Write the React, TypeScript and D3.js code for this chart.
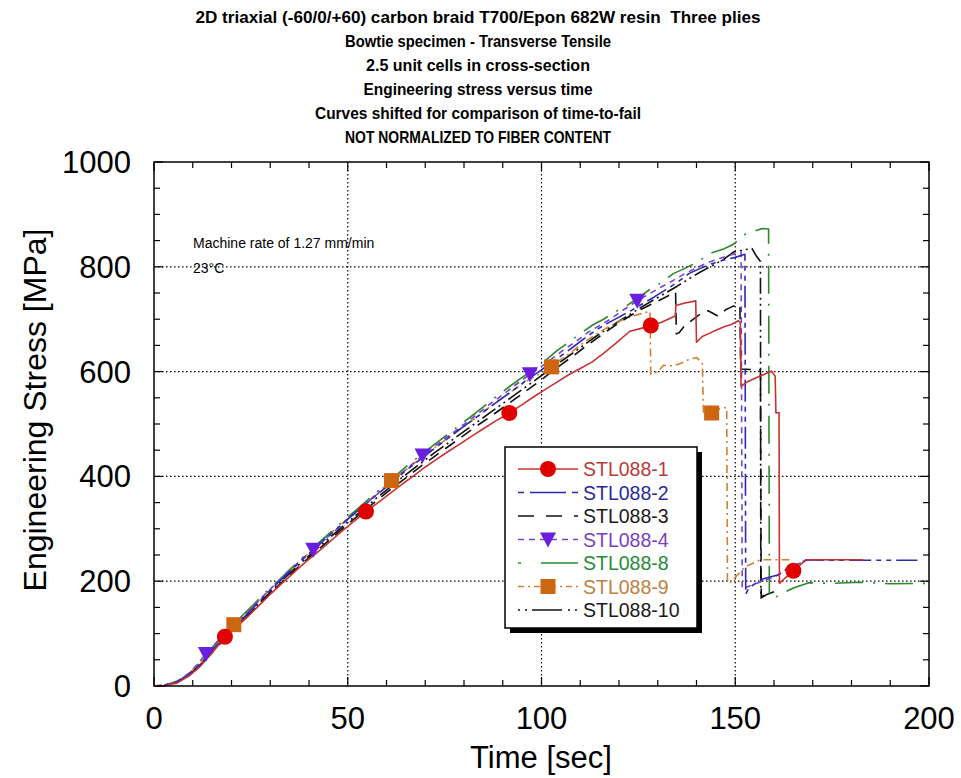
import React from 'react';
import * as d3 from 'd3';

type P = [number, number];

const titleLines = [
  '2D triaxial (-60/0/+60) carbon braid T700/Epon 682W resin  Three plies',
  'Bowtie specimen - Transverse Tensile',
  '2.5 unit cells in cross-section',
  'Engineering stress versus time',
  'Curves shifted for comparison of time-to-fail',
  'NOT NORMALIZED TO FIBER CONTENT',
];
const titleWidths = [565, 266, 224, 229, 326, 266];

const seriesNames = ['STL088-1', 'STL088-2', 'STL088-3', 'STL088-4', 'STL088-8', 'STL088-9', 'STL088-10'];
const xTicksMajor = [0, 50, 100, 150, 200];
const yTicksMajor = [0, 200, 400, 600, 800, 1000];
const xGrid = [50, 100, 150];
const yGrid = [200, 400, 600, 800];

const stl1: P[] = [[0,0],[3,1],[6,6],[9,19],[12,38],[15,63],[18.3,94],[21,111],[24,131],[27,153],[30,175],[33,196],[36,216],[39,236],[42,254],[45,273],[48,292],[51,311],[54.7,333],[58,351],[61,368],[64,385],[67,401],[70,418],[73,433],[76,448],[79,462],[82,477],[85,491],[88,505],[91.7,521],[95,537],[98,552],[101,566],[104,580],[107,594],[110,606],[113,618],[116,635],[119,653],[122.8,677],[125.5,682],[128.2,688],[131,694],[134.5,706],[134.7,726],[137,731],[139.8,735],[140,656],[141.5,667],[143,672],[145,679],[147,685],[149,690],[150.8,697],[151.3,694],[151.5,572],[153,580],[156,590],[159.4,601],[160.3,591],[160.5,521],[161.3,522],[161.4,196],[163,207],[165,220],[168.4,241],[175,241],[183,241]];
const stl2: P[] = [[0,0],[3,2],[6,8],[9,22],[12,42],[15,68],[18,92],[21,115],[24,137],[27,160],[30,183],[33,204],[36,225],[39,246],[42,266],[45,286],[48,305],[51,325],[54,343],[57,362],[60,380],[63,399],[66,417],[69,434],[72,451],[75,468],[78,485],[81,501],[84,517],[87,534],[90,550],[93,566],[96,583],[99,598],[102,614],[105,630],[108,646],[111,663],[114,679],[117,692],[120,704],[123,716],[126,729],[129,742],[132,756],[135,770],[138,787],[141,797],[144,806],[147,813],[150,818],[152.5,824],[152.7,175],[153.5,187],[156.6,203],[158,206],[161,212],[163,222],[166,232],[168.4,241],[175,240],[185,240],[197,240]];
const stl3: P[] = [[0,0],[3,1],[6,7],[9,20],[12,40],[15,64],[18,88],[21,111],[24,133],[27,155],[30,177],[33,198],[36,219],[39,239],[42,258],[45,277],[48,296],[51,315],[54,333],[57,351],[60,369],[63,386],[66,403],[69,420],[72,436],[75,452],[78,468],[81,484],[84,500],[87,515],[90,531],[93,547],[96,563],[99,579],[102,596],[105,613],[108,629],[111,646],[114,662],[117,678],[120,693],[123,707],[126,720],[129,731],[132,742],[134.6,752],[134.8,672],[135.5,674],[137,688],[139.2,700],[141,710],[143,716],[145.5,706],[147.5,718],[149.5,725],[151.2,728],[151.4,605],[154,604],[156.5,603],[156.7,170],[158,176]];
const stl4: P[] = [[0,0],[3,2],[6,9],[9,24],[11,40],[13.4,61],[16,82],[19,104],[22,126],[25,147],[28,170],[31,192],[34,214],[37,234],[41.1,260],[44,279],[47,298],[50,318],[53,336],[56,356],[59,375],[62,394],[65,413],[69.3,440],[72,455],[75,472],[78,488],[81,505],[84,522],[87,540],[90,556],[93,573],[97,595],[100,610],[103,626],[106,643],[109,658],[112,675],[115,688],[118,701],[121,717],[124.7,735],[128,749],[131,762],[134,774],[137,787],[140,798],[143,808],[146,816],[149,823],[151.5,828],[151.8,185],[154,192],[157,200],[160,208],[163,220],[166,232],[168.5,241],[175,241],[183,241]];
const stl8: P[] = [[0,0],[2,1],[4,4],[6,9],[8,17],[10,29],[12,46],[14,64],[16,82],[18,98],[20,114],[23,136],[26,158],[29,180],[32,200],[35,222],[38,243],[41,263],[44,283],[47,303],[50,322],[53,341],[56,361],[59,380],[62,399],[65,418],[68,436],[71,453],[74,470],[77,487],[80,504],[83,521],[86,539],[89,556],[92,573],[95,589],[98,604],[101,621],[104,640],[107,656],[110,672],[113,688],[116,700],[119,714],[122,726],[125,741],[128,757],[131,770],[134,787],[137,797],[140,808],[142,818],[144,827],[147,834],[149.5,843],[151,852],[152.5,862],[155,868],[157,873],[158.6,872],[158.8,171],[160,168],[163,180],[165,187],[169,197],[175,196],[182,198],[190,195],[200,196]];
const stl9: P[] = [[0,0],[3,2],[6,9],[9,24],[12,44],[15,69],[18,96],[20.6,117],[24,140],[27,162],[30,185],[33,206],[36,227],[39,248],[42,268],[45,288],[48,307],[51,326],[54,345],[57,364],[61.3,392],[64,407],[67,424],[70,441],[73,458],[76,474],[79,490],[82,506],[85,523],[88,540],[91,556],[94,571],[97,586],[100,597],[102.6,609],[105,623],[108,639],[111,656],[114,671],[117,684],[120,696],[123,705],[126,711],[128,715],[128.2,595],[130,600],[131.5,612],[134,611],[136,616],[138,623],[140,627],[141.5,617],[141.8,521],[143.9,521],[146.5,531],[147.8,531],[148,197],[149,199],[152.6,228],[156.6,241],[164,241]];
const stl10: P[] = [[0,0],[3,2],[6,8],[9,21],[12,41],[15,66],[18,90],[21,113],[24,135],[27,157],[30,179],[33,201],[36,222],[39,242],[42,262],[45,281],[48,300],[51,319],[54,337],[57,356],[60,374],[63,392],[66,409],[69,426],[72,443],[75,459],[78,475],[81,491],[84,507],[87,523],[90,539],[93,555],[96,571],[99,587],[102,603],[105,619],[108,635],[111,651],[114,667],[117,682],[120,696],[123,710],[126,724],[129,737],[132,750],[135,763],[138,777],[141,790],[144,802],[147,814],[149.5,828],[152,832],[154.3,835],[155.5,820],[156.5,810],[156.6,168],[158,174],[160,180]];

const stl1Markers: P[] = [[18.3,94],[54.7,333],[91.7,521],[128.2,688],[165,220]];
const stl4Markers: P[] = [[13.4,61],[41.1,260],[69.3,440],[97,595],[124.7,735]];
const stl9Markers: P[] = [[20.6,117],[61.3,392],[102.6,609],[143.9,521]];

const FONT = "'Liberation Sans', Arial, sans-serif";

type Style = { data: P[]; color: string; dash?: string; marker?: string; markerColor?: string; markers?: P[]; text: string; legendDash?: string };

const series: Style[] = [
  { data: stl1, color: '#c83232', marker: 'circle', markerColor: '#e00000', markers: stl1Markers, text: '#b83a3a' },
  { data: stl2, color: '#2a2ab8', dash: '5,5,5,5,22,5', text: '#2a2a9a', legendDash: '6,6,36,6' },
  { data: stl3, color: '#111111', dash: '12,8', text: '#1a1a1a', legendDash: '16,12' },
  { data: stl4, color: '#7a44d0', dash: '6,5', marker: 'triangle', markerColor: '#6a1fe0', markers: stl4Markers, text: '#7a3fc0', legendDash: '6,5' },
  { data: stl8, color: '#2a8a2a', dash: '2,10,28,10', text: '#2a8a3a', legendDash: '3,20,40,6' },
  { data: stl9, color: '#d08030', dash: '8,4,2,4', marker: 'square', markerColor: '#cc6610', markers: stl9Markers, text: '#c08040', legendDash: '6,4,2,4' },
  { data: stl10, color: '#111111', dash: '2,4,2,4,16,4', text: '#1a1a1a', legendDash: '2,5,2,5,30,6' },
];

function Marker({ type, cx, cy, fill }: { type?: string; cx: number; cy: number; fill?: string }) {
  if (type === 'circle') return <circle cx={cx} cy={cy} r={8} fill={fill} />;
  if (type === 'triangle') {
    const p = `${cx - 8},${cy - 7} ${cx + 8},${cy - 7} ${cx},${cy + 8}`;
    return <polygon points={p} fill={fill} />;
  }
  if (type === 'square') return <rect x={cx - 7.5} y={cy - 7.5} width={15} height={15} fill={fill} />;
  return null;
}

export default function App() {
  const L = 154, R = 929, T = 162, B = 686;
  const x = d3.scaleLinear().domain([0, 200]).range([L, R]);
  const y = d3.scaleLinear().domain([0, 1000]).range([B, T]);
  const line = d3.line<P>().x(d => x(d[0])).y(d => y(d[1]));
  const xMinor = d3.range(0, 201, 10);
  const yMinor = d3.range(0, 1001, 50);

  const legX = 505, legY = 447, legW = 192, legH = 181;
  const legRowY = (i: number) => 469 + i * 23.5;

  return (
    <svg width={961} height={778} style={{ position: 'absolute', left: 0, top: 0, background: '#fff' }} fontFamily={FONT}>
      <rect x={0} y={0} width={961} height={778} fill="#fff" />
      {titleLines.map((t, i) => (
        <text key={i} x={478} y={23 + i * 24} textAnchor="middle" fontSize={16.5} fontWeight="bold" textLength={titleWidths[i]} lengthAdjust="spacingAndGlyphs" style={{ whiteSpace: 'pre' }}>{t}</text>
      ))}
      {/* grid */}
      {xGrid.map(v => <line key={'gx' + v} x1={x(v)} x2={x(v)} y1={T} y2={B} stroke="#000" strokeWidth={1.2} strokeDasharray="1.5,2.5" />)}
      {yGrid.map(v => <line key={'gy' + v} x1={L} x2={R} y1={y(v)} y2={y(v)} stroke="#000" strokeWidth={1.2} strokeDasharray="1.5,2.5" />)}
      {/* ticks */}
      {xMinor.map(v => (
        <g key={'xt' + v}>
          <line x1={x(v)} x2={x(v)} y1={B} y2={B - (v % 50 === 0 ? 9 : 6)} stroke="#000" strokeWidth={1.2} />
          <line x1={x(v)} x2={x(v)} y1={T} y2={T + (v % 50 === 0 ? 9 : 6)} stroke="#000" strokeWidth={1.2} />
        </g>
      ))}
      {yMinor.map(v => (
        <g key={'yt' + v}>
          <line x1={L} x2={L + (v % 200 === 0 ? 9 : 6)} y1={y(v)} y2={y(v)} stroke="#000" strokeWidth={1.2} />
          <line x1={R} x2={R - (v % 200 === 0 ? 9 : 6)} y1={y(v)} y2={y(v)} stroke="#000" strokeWidth={1.2} />
        </g>
      ))}
      {/* series */}
      {series.slice().reverse().map((s, i) => (
        <path key={'s' + i} d={line(s.data) || ''} fill="none" stroke={s.color} strokeWidth={1.6} strokeDasharray={s.dash} strokeLinejoin="round" />
      ))}
      {series.slice().reverse().map((s, i) => (
        <g key={'m' + i}>
          {(s.markers || []).map((m, j) => <Marker key={j} type={s.marker} cx={x(m[0])} cy={y(m[1])} fill={s.markerColor} />)}
        </g>
      ))}
      {/* frame */}
      <rect x={L} y={T} width={R - L} height={B - T} fill="none" stroke="#000" strokeWidth={1.5} />
      {/* axis labels */}
      {xTicksMajor.map(v => (
        <text key={'xl' + v} x={x(v)} y={729} textAnchor="middle" fontSize={31}>{v}</text>
      ))}
      {yTicksMajor.map(v => (
        <text key={'yl' + v} x={131} y={y(v) + 11} textAnchor="end" fontSize={31}>{v}</text>
      ))}
      <text x={541} y={768} textAnchor="middle" fontSize={31}>Time [sec]</text>
      <text transform={`translate(46,410) rotate(-90)`} textAnchor="middle" fontSize={32}>Engineering Stress [MPa]</text>
      {/* annotation */}
      <text x={193} y={248} fontSize={14}>Machine rate of 1.27 mm/min</text>
      <text x={193} y={273} fontSize={14}>23°C</text>
      {/* legend */}
      <rect x={legX + 5} y={legY + 5} width={legW} height={legH} fill="#000" />
      <rect x={legX} y={legY} width={legW} height={legH} fill="#fff" stroke="#000" strokeWidth={1.5} />
      {series.map((s, i) => (
        <g key={'lg' + i}>
          <line x1={518} x2={578} y1={legRowY(i)} y2={legRowY(i)} stroke={s.color} strokeWidth={1.6} strokeDasharray={s.legendDash} />
          <Marker type={s.marker} cx={548} cy={legRowY(i)} fill={s.markerColor} />
          <text x={583} y={legRowY(i) + 7} fontSize={19.5} fill={s.text}>{seriesNames[i]}</text>
        </g>
      ))}
    </svg>
  );
}
